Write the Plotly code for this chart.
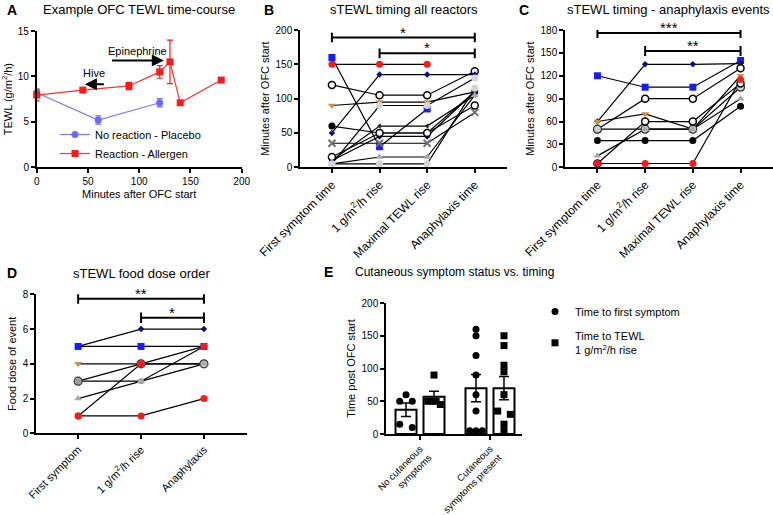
import numpy as np
import plotly.graph_objects as go

W, H = 773, 515
FONT = "Liberation Sans, Arial, sans-serif"

# ---------------- Panel A data ----------------
a_placebo_t = [0, 60, 120]
a_placebo_v = [8.2, 5.2, 7.1]
a_placebo_err = [0.3, 0.45, 0.45]
a_allergen_t = [0, 45, 90, 120, 130, 140, 180]
a_allergen_v = [7.95, 8.5, 8.95, 10.5, 11.6, 7.1, 9.6]
a_allergen_err = [0.65, 0.1, 0.4, 0.7, 2.4, 0.1, 0.1]

# ---------------- Panel B data ----------------
b_categories = ["First symptom time", "1 g/m<sup>2</sup>/h rise", "Maximal TEWL rise", "Anaphylaxis time"]
b_red = [150, 150, 150, None]
b_blue = [160, 30, 85, None]
b_open1 = [120, 105, 105, 140]
b_navy = [50, 135, 135, 135]
b_brown = [90, 95, 95, 110]
b_ltgray1 = [5, 90, 90, 130]
b_black = [60, 50, 50, 110]
b_tri = [10, 60, 60, 105]
b_navy2 = [10, 45, 45, 110]
b_x = [35, 35, 35, 80]
b_open2 = [15, 50, 50, 90]
b_graytri = [5, 15, 15, 105]
b_ltgray2 = [5, 5, 5, 115]

# ---------------- Panel C data ----------------
c_categories = b_categories
c_blue = [120, 105, 105, 140]
c_navy = [60, 135, 135, 136]
c_open1 = [50, 90, 90, 130]
c_brown = [60, 70, 50, 120]
c_ltgray = [50, 50, 50, 105]
c_graytri = [15, 50, 50, 90]
c_open2 = [5, 60, 60, 110]
c_black = [35, 35, 35, 80]
c_red = [5, 5, 5, 115]

# ---------------- Panel D data ----------------
d_categories = ["First symptom", "1 g/m<sup>2</sup>/h rise", "Anaphylaxis"]
d_navy = [5, 6, 6]
d_blue = [5, 5, 5]
d_brown = [4, 4, 4]
d_open = [3, 4, 4]
d_ltgray = [3, 3, 5]
d_graytri = [2, 3, 4]
d_red1 = [1, 4, 5]
d_red2 = [1, 1, 2]

# ---------------- Panel E data ----------------
e_groups = ["No cutaneous<br>symptoms", "Cutaneous<br>symptoms present"]
e_first_nocut = [60, 50, 50, 10, 15]
e_tewl_nocut = [90, 50, 50, 50, 45]
e_first_cut = [160, 150, 120, 90, 60, 35, 5, 5, 5]
e_tewl_cut = [150, 135, 105, 95, 60, 35, 30, 15, 5]

# ---------------- styles ----------------
STY = {
    "red": dict(symbol="circle", color="#ff1a1a", size=7),
    "blue": dict(symbol="square", color="#1a1aff", size=7),
    "open": dict(symbol="circle", color="white", line=dict(color="black", width=1.5), size=7),
    "navy": dict(symbol="diamond", color="#10107a", size=5),
    "brown": dict(symbol="triangle-down", color="#c39350", size=7),
    "ltgray": dict(symbol="circle", color="#d4d4d4", size=7),
    "ltgray_ol": dict(symbol="circle", color="#d0d0d0", line=dict(color="#333333", width=1.2), size=8),
    "graytri": dict(symbol="triangle-up", color="#a8a8a8", size=7),
    "black": dict(symbol="circle", color="black", size=7),
    "x": dict(symbol="x-thin-open", color="#707070", line=dict(color="#707070", width=2), size=7),
    "tri": dict(symbol="triangle-left", color="#222222", size=5),
    "gray": dict(symbol="circle", color="#9a9a9a", size=6),
}

fig = go.Figure()


def px_x(p):
    return p / W


def px_y(p):
    return 1 - p / H


def add_series(xa, ya, series):
    ncat = len(series[0][0])
    xs = list(range(ncat))
    for vals, _ in series:
        fig.add_trace(go.Scatter(x=xs, y=vals, mode="lines", xaxis=xa, yaxis=ya,
                                 line=dict(color="black", width=1.2), showlegend=False,
                                 hoverinfo="skip", cliponaxis=False))
    for vals, st in series:
        fig.add_trace(go.Scatter(x=xs, y=vals, mode="markers", xaxis=xa, yaxis=ya,
                                 marker=STY[st], showlegend=False, cliponaxis=False))


def add_bracket(xa, ya, x0, x1, y, h, label):
    fig.add_trace(go.Scatter(x=[x0, x0, None, x0, x1, None, x1, x1],
                             y=[y - h, y + h, None, y, y, None, y - h, y + h],
                             mode="lines", xaxis=xa, yaxis=ya,
                             line=dict(color="black", width=2), showlegend=False,
                             hoverinfo="skip", cliponaxis=False))
    fig.add_annotation(x=(x0 + x1) / 2, y=y, xref=xa, yref=ya, text=label, showarrow=False,
                       yanchor="bottom", yshift=-5, font=dict(size=15, color="black", family=FONT))


# ---------------- Panel A ----------------
fig.add_trace(go.Scatter(x=a_placebo_t, y=a_placebo_v, mode="lines+markers", xaxis="x", yaxis="y",
                         name="No reaction - Placebo", legend="legend",
                         line=dict(color="#7b7bff", width=1.2),
                         marker=dict(symbol="circle", color="#6a6aff", size=7),
                         error_y=dict(type="data", array=a_placebo_err, color="#6a6aff", thickness=1.2, width=3),
                         cliponaxis=False))
fig.add_trace(go.Scatter(x=a_allergen_t, y=a_allergen_v, mode="lines+markers", xaxis="x", yaxis="y",
                         name="Reaction - Allergen", legend="legend",
                         line=dict(color="#ff3030", width=1.2),
                         marker=dict(symbol="square", color="#ff1a1a", size=7),
                         error_y=dict(type="data", array=a_allergen_err, color="#ff1a1a", thickness=1.2, width=3),
                         cliponaxis=False))

A_EPI = dict(text="Epinephrine", tx=98, ty=12.85, x0=72, x1=124, y=11.75)
A_HIVE = dict(text="Hive", tx=56, ty=10.4, x0=67, x1=47, y=9.15)
for ann in (A_EPI, A_HIVE):
    fig.add_annotation(x=ann["x1"], y=ann["y"], ax=ann["x0"], ay=ann["y"], xref="x", yref="y",
                       axref="x", ayref="y", showarrow=True, arrowhead=2, arrowsize=1.2,
                       arrowwidth=2, arrowcolor="black", text="")
    fig.add_annotation(x=ann["tx"], y=ann["ty"], xref="x", yref="y", text=ann["text"], showarrow=False,
                       font=dict(size=11, color="black", family=FONT))

# ---------------- Panel B ----------------
add_series("x2", "y2", [
    (b_red, "red"), (b_blue, "blue"), (b_open1, "open"), (b_navy, "navy"), (b_brown, "brown"),
    (b_ltgray1, "ltgray"), (b_black, "black"), (b_tri, "tri"), (b_navy2, "navy"), (b_x, "x"),
    (b_open2, "open"), (b_graytri, "graytri"), (b_ltgray2, "ltgray")])
add_bracket("x2", "y2", 0, 3, 189, 7, "*")
add_bracket("x2", "y2", 1, 3, 166, 7, "*")

# ---------------- Panel C ----------------
add_series("x3", "y3", [
    (c_blue, "blue"), (c_navy, "navy"), (c_open1, "open"), (c_brown, "brown"), (c_ltgray, "ltgray_ol"),
    (c_graytri, "graytri"), (c_open2, "open"), (c_black, "black"), (c_red, "red")])
add_bracket("x3", "y3", 0, 3, 176, 6.5, "***")
add_bracket("x3", "y3", 1, 3, 152.5, 6.5, "**")

# ---------------- Panel D ----------------
add_series("x4", "y4", [
    (d_navy, "navy"), (d_blue, "blue"), (d_brown, "brown"), (d_open, "ltgray_ol"), (d_ltgray, "gray"),
    (d_graytri, "graytri"), (d_red1, "red"), (d_red2, "red")])
add_bracket("x4", "y4", 0, 2, 7.75, 0.3, "**")
add_bracket("x4", "y4", 1, 2, 6.65, 0.3, "*")

# ---------------- Panel E ----------------
E_OFF = 0.2
E_BW = 0.3


def spread(vals, tol=6, s=0.09):
    order = np.argsort(vals)[::-1]
    offs = np.zeros(len(vals))
    clusters = []
    for i in order:
        if clusters and abs(vals[clusters[-1][-1]] - vals[i]) <= tol:
            clusters[-1].append(i)
        else:
            clusters.append([i])
    for c in clusters:
        n = len(c)
        if n > 1:
            for k, idx in enumerate(c):
                offs[idx] = -s + 2 * s * k / (n - 1)
    return offs


e_sets = [(e_first_nocut, 0, -1, "circle"), (e_tewl_nocut, 0, 1, "square"),
          (e_first_cut, 1, -1, "circle"), (e_tewl_cut, 1, 1, "square")]
for vals, g, side, sym in e_sets:
    v = np.array(vals, dtype=float)
    xc = g + side * E_OFF
    sem = v.std(ddof=1) / np.sqrt(len(v))
    fig.add_trace(go.Bar(x=[xc], y=[v.mean()], width=E_BW, xaxis="x5", yaxis="y5",
                         marker=dict(color="white", line=dict(color="black", width=2)),
                         error_y=dict(type="data", array=[sem], color="black", thickness=1.5, width=5),
                         showlegend=False))
for vals, g, side, sym in e_sets:
    v = np.array(vals, dtype=float)
    xc = g + side * E_OFF
    fig.add_trace(go.Scatter(x=xc + spread(v), y=v, mode="markers", xaxis="x5", yaxis="y5",
                             marker=dict(symbol=sym, color="black", size=7), showlegend=False,
                             cliponaxis=False))

fig.add_trace(go.Scatter(x=[None], y=[None], mode="markers", xaxis="x5", yaxis="y5",
                         name="Time to first symptom", legend="legend2", legendgroup="e1",
                         marker=dict(symbol="circle", color="black", size=7)))
fig.add_trace(go.Scatter(x=[None], y=[None], mode="markers", xaxis="x5", yaxis="y5",
                         name="Time to TEWL<br>1 g/m<sup>2</sup>/h rise", legend="legend2", legendgroup="e2",
                         marker=dict(symbol="square", color="black", size=7)))

# ---------------- axes ----------------
def ax_style(**kw):
    d = dict(showline=True, linecolor="black", linewidth=1.5, ticks="outside", ticklen=4,
             tickwidth=1.5, tickcolor="black", showgrid=False, zeroline=False, automargin=False,
             tickfont=dict(size=10, color="black", family=FONT),
             title_font=dict(size=11, color="black", family=FONT))
    d.update(kw)
    return d


XT = dict(size=12, color="black", family=FONT)
XT_D = dict(size=11, color="black", family=FONT)
fig.update_layout(
    xaxis=ax_style(domain=[px_x(36.7), px_x(241.7)], range=[0, 200], tickvals=[0, 50, 100, 150, 200],
                   anchor="y", title=dict(text="Minutes after OFC start", standoff=4)),
    yaxis=ax_style(domain=[px_y(167.3), px_y(31)], range=[0, 15], tickvals=[0, 5, 10, 15],
                   anchor="x", title=dict(text="TEWL (g/m<sup>2</sup>/h)", standoff=4)),
    xaxis2=ax_style(domain=[px_x(300), px_x(506.7)], range=[-0.67, 3.67], tickvals=[0, 1, 2, 3],
                    ticktext=b_categories, tickangle=-45, anchor="y2", tickfont=XT),
    yaxis2=ax_style(domain=[px_y(167.3), px_y(30)], range=[0, 200], tickvals=[0, 50, 100, 150, 200],
                    anchor="x2", title=dict(text="Minutes after OFC start", standoff=4)),
    xaxis3=ax_style(domain=[px_x(565), px_x(772.5)], range=[-0.68, 3.67], tickvals=[0, 1, 2, 3],
                    ticktext=c_categories, tickangle=-45, anchor="y3", tickfont=XT),
    yaxis3=ax_style(domain=[px_y(167.3), px_y(30)], range=[0, 180], tickvals=[0, 30, 60, 90, 120, 150, 180],
                    anchor="x3", title=dict(text="Minutes after OFC start", standoff=4)),
    xaxis4=ax_style(domain=[px_x(36), px_x(246.7)], range=[-0.67, 2.68], tickvals=[0, 1, 2],
                    ticktext=d_categories, tickangle=-45, anchor="y4", tickfont=XT_D),
    yaxis4=ax_style(domain=[px_y(433.3), px_y(294.3)], range=[0, 8], tickvals=[0, 2, 4, 6, 8],
                    anchor="x4", title=dict(text="Food dose of event", standoff=4)),
    xaxis5=ax_style(domain=[px_x(386), px_x(521.7)], range=[-0.486, 1.453], tickvals=[0, 1],
                    ticktext=e_groups, tickangle=-45, anchor="y5",
                    tickfont=dict(size=9.5, color="black", family=FONT)),
    yaxis5=ax_style(domain=[px_y(434), px_y(303)], range=[0, 200], tickvals=[0, 50, 100, 150, 200],
                    anchor="x5", title=dict(text="Time post OFC start", standoff=4),
                    tickfont=dict(size=10, color="black", family=FONT)),
)

# titles and panel letters
titles = [("A", 5, 10, "Example OFC TEWL time-course", 139, 10, 13),
          ("B", 262, 10, "sTEWL timing all reactors", 404, 10, 13),
          ("C", 517, 10, "sTEWL timing - anaphylaxis events", 668, 10, 13),
          ("D", 5, 273, "sTEWL food dose order", 141, 273, 13),
          ("E", 322, 272, "Cutaneous symptom status vs. timing", 455, 272, 12)]
for let, lx, ly, t, tx, ty, fs in titles:
    fig.add_annotation(x=px_x(lx), y=px_y(ly), xref="paper", yref="paper", text=f"<b>{let}</b>",
                       showarrow=False, xanchor="left", yanchor="middle",
                       font=dict(size=14, color="black", family=FONT))
    fig.add_annotation(x=px_x(tx), y=px_y(ty), xref="paper", yref="paper", text=t,
                       showarrow=False, xanchor="center", yanchor="middle",
                       font=dict(size=fs, color="black", family=FONT))

fig.update_layout(
    width=W, height=H, margin=dict(l=0, r=0, t=0, b=0, autoexpand=False),
    paper_bgcolor="white", plot_bgcolor="white",
    font=dict(family=FONT, color="black"),
    showlegend=True,
    legend=dict(x=px_x(55), y=px_y(120), xanchor="left", yanchor="top", bgcolor="rgba(0,0,0,0)",
                font=dict(size=11, color="black", family=FONT), tracegroupgap=0),
    legend2=dict(x=px_x(535), y=px_y(297), xanchor="left", yanchor="top", bgcolor="rgba(0,0,0,0)",
                 font=dict(size=11, color="black", family=FONT), tracegroupgap=6),
    barmode="overlay",
)

fig.write_html("out.html", config={"displayModeBar": False},
               post_script="document.body.style.margin='0';document.body.style.overflow='hidden';")
